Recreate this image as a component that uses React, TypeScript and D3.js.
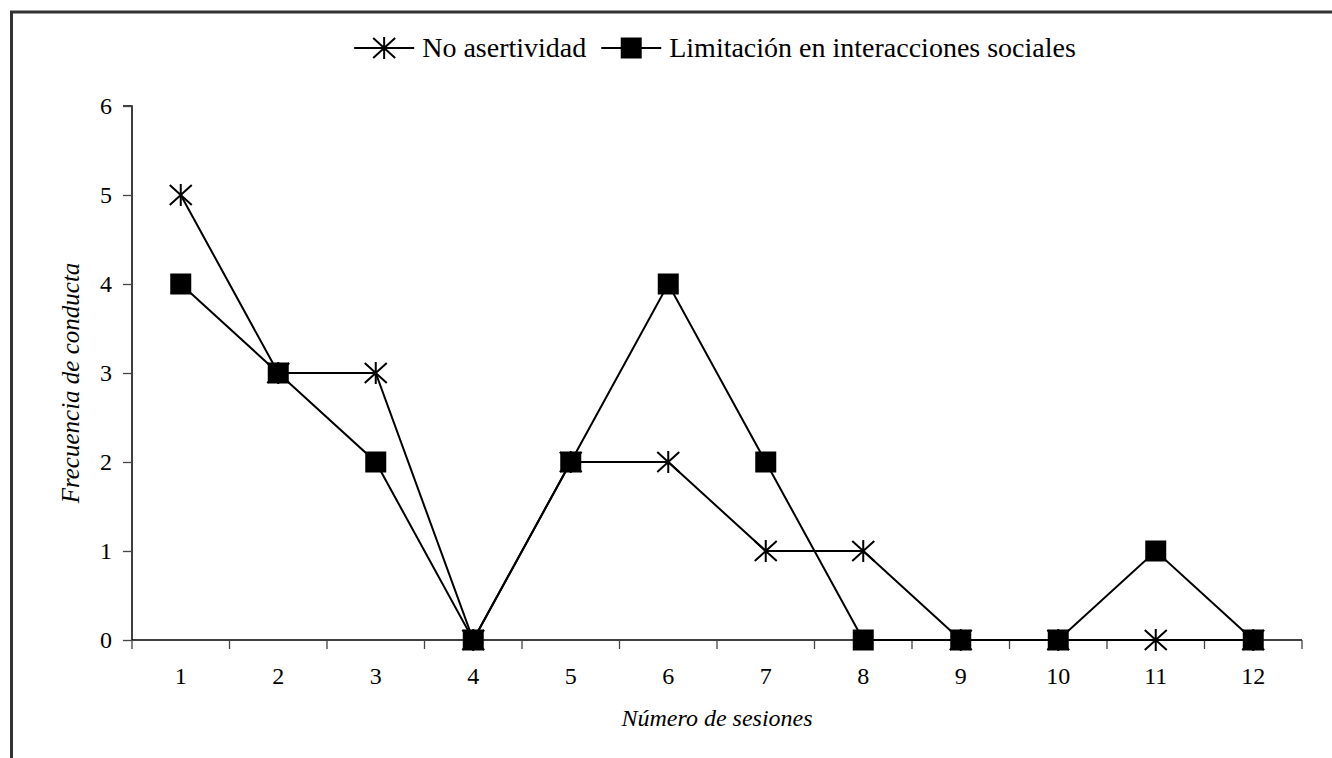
import React, { useEffect, useRef } from "react";
import * as d3 from "d3";

const sessions = ["1", "2", "3", "4", "5", "6", "7", "8", "9", "10", "11", "12"];
const noAsertividad = [5, 3, 3, 0, 2, 2, 1, 1, 0, 0, 0, 0];
const limitacion = [4, 3, 2, 0, 2, 4, 2, 0, 0, 0, 1, 0];
const yTicks = [0, 1, 2, 3, 4, 5, 6];
const seriesNames = ["No asertividad", "Limitación en interacciones sociales"];

const W = 1332;
const H = 758;
const FONT = "'Liberation Serif', 'Times New Roman', Times, serif";

export default function App() {
  const ref = useRef<SVGSVGElement>(null);

  useEffect(() => {
    const svg = d3.select(ref.current);
    svg.selectAll("*").remove();

    const left = 132, right = 1302, top = 106, bottom = 640;
    const x = d3.scaleBand().domain(sessions).range([left, right]);
    const y = d3.scaleLinear().domain([0, 6]).range([bottom, top]);

    // frame
    svg.append("rect").attr("x", 11.5).attr("y", 12).attr("width", 1400).attr("height", 900)
      .attr("fill", "none").attr("stroke", "#333").attr("stroke-width", 3);

    // y axis
    const gy = svg.append("g").attr("transform", `translate(${left},0)`)
      .call(d3.axisLeft(y).tickValues(yTicks).tickSize(9).tickPadding(11).tickFormat(d3.format("d")));
    gy.select(".domain").attr("stroke", "#000").attr("stroke-width", 1.5).attr("d", `M-9,${top}H0V${bottom}`);
    gy.selectAll(".tick line").attr("stroke", "#444").attr("stroke-width", 1.3);
    gy.selectAll(".tick text").style("font-family", FONT).attr("font-size", 24).attr("fill", "#000");

    // x axis
    const gx = svg.append("g").attr("transform", `translate(0,${bottom})`);
    gx.append("line").attr("x1", left).attr("x2", right).attr("y1", 0).attr("y2", 0)
      .attr("stroke", "#000").attr("stroke-width", 1.5);
    const bounds = sessions.map((s) => x(s)!).concat([right]);
    gx.selectAll("line.tk").data(bounds).enter().append("line").attr("class", "tk")
      .attr("x1", (d) => d).attr("x2", (d) => d).attr("y1", 0).attr("y2", 9)
      .attr("stroke", "#444").attr("stroke-width", 1.3);
    gx.selectAll("text").data(sessions).enter().append("text")
      .attr("x", (d) => x(d)! + x.bandwidth() / 2).attr("y", 44)
      .attr("text-anchor", "middle").style("font-family", FONT).attr("font-size", 24)
      .text((d) => d);

    // axis titles
    svg.append("text").attr("x", (left + right) / 2).attr("y", 726).attr("text-anchor", "middle")
      .style("font-family", FONT).attr("font-size", 24).attr("font-style", "italic")
      .text("Número de sesiones");
    svg.append("text").attr("transform", `translate(79,383) rotate(-90)`).attr("text-anchor", "middle")
      .style("font-family", FONT).attr("font-size", 25).attr("font-style", "italic")
      .text("Frecuencia de conducta");

    const cx = (i: number) => x(sessions[i])! + x.bandwidth() / 2;
    const line = d3.line<number>().x((_, i) => cx(i)).y((d) => y(d));

    const star = (g: any, px: number, py: number) => {
      const s = 11, v = 11;
      g.append("path")
        .attr("d", `M${px - s},${py - v * 0.9}L${px + s},${py + v * 0.9}M${px - s},${py + v * 0.9}L${px + s},${py - v * 0.9}M${px},${py - v}L${px},${py + v}`)
        .attr("stroke", "#000").attr("stroke-width", 2).attr("fill", "none");
    };
    const square = (g: any, px: number, py: number) => {
      g.append("rect").attr("x", px - 10.5).attr("y", py - 10.5).attr("width", 21).attr("height", 21).attr("fill", "#000");
    };

    const plot = svg.append("g");
    plot.append("path").datum(noAsertividad).attr("d", line).attr("fill", "none").attr("stroke", "#000").attr("stroke-width", 2);
    plot.append("path").datum(limitacion).attr("d", line).attr("fill", "none").attr("stroke", "#000").attr("stroke-width", 2);
    limitacion.forEach((d, i) => square(plot, cx(i), y(d)));
    noAsertividad.forEach((d, i) => star(plot, cx(i), y(d)));

    // legend
    const lg = svg.append("g");
    const ly = 48;
    const fs = 28;
    const t1 = lg.append("text").style("font-family", FONT).attr("font-size", fs).attr("y", ly + 9).text(seriesNames[0]);
    const t2 = lg.append("text").style("font-family", FONT).attr("font-size", fs).attr("y", ly + 9).text(seriesNames[1]);
    const w1 = (t1.node() as SVGTextElement).getComputedTextLength();
    const w2 = (t2.node() as SVGTextElement).getComputedTextLength();
    const lineLen = 60, gapT = 8, gapS = 15;
    const total = lineLen + gapT + w1 + gapS + lineLen + gapT + w2;
    let sx = 715 - total / 2;
    lg.append("line").attr("x1", sx).attr("x2", sx + lineLen).attr("y1", ly).attr("y2", ly).attr("stroke", "#000").attr("stroke-width", 2);
    star(lg, sx + lineLen / 2, ly);
    t1.attr("x", sx + lineLen + gapT);
    sx += lineLen + gapT + w1 + gapS;
    lg.append("line").attr("x1", sx).attr("x2", sx + lineLen).attr("y1", ly).attr("y2", ly).attr("stroke", "#000").attr("stroke-width", 2);
    square(lg, sx + lineLen / 2, ly);
    t2.attr("x", sx + lineLen + gapT);
  }, []);

  return (
    <svg ref={ref} width={W} height={H} style={{ position: "absolute", left: 0, top: 0, background: "#fff" }} />
  );
}
